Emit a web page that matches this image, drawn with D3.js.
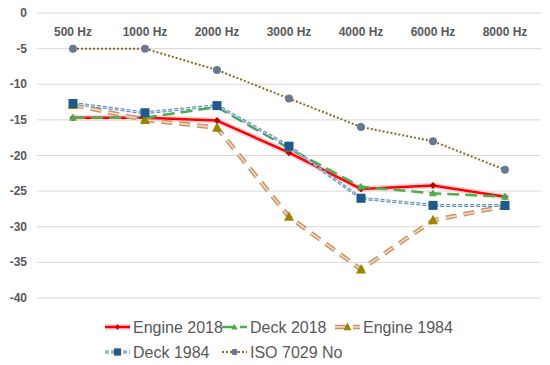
<!DOCTYPE html>
<html>
<head>
<meta charset="utf-8">
<script src="https://cdn.jsdelivr.net/npm/d3@7"></script>
<style>
  body { margin: 0; background: #fff; }
  svg { font-family: "Liberation Sans", Arial, sans-serif; }
  .tick-label { font-weight: bold; fill: #595959; font-size: 12px; }
  .legend-text { fill: #595959; font-size: 16px; }
</style>
</head>
<body>
<svg id="chart" width="550" height="365"></svg>
<script>
// values
const categories = ['500 Hz', '1000 Hz', '2000 Hz', '3000 Hz', '4000 Hz', '6000 Hz', '8000 Hz'];
const engine2018 = [-14.7, -14.7, -15.1, -19.6, -24.7, -24.2, -25.8];
const deck2018 = [-14.7, -14.7, -13.2, -19.0, -24.4, -25.3, -25.8];
const engine1984 = [-12.9, -15.0, -16.1, -28.6, -36.0, -29.1, -27.1];
const deck1984 = [-12.7, -14.0, -13.0, -18.7, -26.0, -27.0, -27.0];
const iso7029 = [-5, -5, -8, -12, -16, -18, -22];
const yTicks = [0, -5, -10, -15, -20, -25, -30, -35, -40];

const series = [
    { name: 'Engine 2018', values: engine2018, key: 'e18' },
    { name: 'Deck 2018', values: deck2018, key: 'd18' },
    { name: 'Engine 1984', values: engine1984, key: 'e84' },
    { name: 'Deck 1984', values: deck1984, key: 'd84' },
    { name: 'ISO 7029 No', values: iso7029, key: 'iso' }
];

const svg = d3.select('#chart');

const x = d3.scaleBand().domain(categories).range([37, 541]).padding(0);
const y = d3.scaleLinear().domain([-40, 0]).range([298, 13]);
const cx = (c) => x(c) + x.bandwidth() / 2;

// grid + y labels
svg.append('g').selectAll('line')
    .data(yTicks)
    .enter().append('line')
    .attr('x1', 37).attr('x2', 541)
    .attr('y1', d => y(d)).attr('y2', d => y(d))
    .attr('stroke', '#d9d9d9').attr('stroke-width', 1);

svg.append('g').selectAll('text')
    .data(yTicks)
    .enter().append('text')
    .attr('class', 'tick-label')
    .attr('x', 27).attr('y', d => y(d) + 4)
    .attr('text-anchor', 'end')
    .text(d => d === 0 ? '0' : d3.format('d')(d).replace('−', '-'));

// category labels sit just below the 0 line
svg.append('g').selectAll('text')
    .data(categories)
    .enter().append('text')
    .attr('class', 'tick-label')
    .attr('x', d => cx(d)).attr('y', 36)
    .attr('text-anchor', 'middle')
    .text(d => d);

const line = d3.line().x((d, i) => cx(categories[i])).y(d => y(d));

// line styles per series, each a list of stroked layers
const styles = {
    e18: [{ stroke: '#ffd6de', width: 6, dash: null }, { stroke: '#ff0000', width: 2.5, dash: null }],
    d18: [{ stroke: '#4cae4c', width: 2.5, dash: '12,6' }],
    e84: [{ stroke: '#c8956a', width: 4.5, dash: '11,7' }, { stroke: '#f6dcc4', width: 1.5, dash: '11,7' }],
    d84: [{ stroke: '#5f89b3', width: 3, dash: '4,2' }, { stroke: '#d6e6f2', width: 1, dash: '4,2' }],
    iso: [{ stroke: '#8a6d1c', width: 2, dash: '2,2' }]
};

function marker (g, key, px, py, scale) {
    const s = scale || 1;
    if (key === 'e18') {
        g.append('path')
            .attr('d', `M${px},${py - 3.5 * s}L${px + 3.5 * s},${py}L${px},${py + 3.5 * s}L${px - 3.5 * s},${py}Z`)
            .attr('fill', '#c00000');
    } else if (key === 'd18') {
        g.append('path')
            .attr('d', `M${px},${py - 4 * s}L${px + 4 * s},${py + 3 * s}L${px - 4 * s},${py + 3 * s}Z`)
            .attr('fill', '#4cae4c');
    } else if (key === 'e84') {
        g.append('path')
            .attr('d', `M${px},${py - 5.5 * s}L${px + 5 * s},${py + 4 * s}L${px - 5 * s},${py + 4 * s}Z`)
            .attr('fill', '#9c8300');
    } else if (key === 'd84') {
        g.append('rect')
            .attr('x', px - 4.5 * s).attr('y', py - 4.5 * s)
            .attr('width', 9 * s).attr('height', 9 * s)
            .attr('fill', '#1f5a8c');
    } else if (key === 'iso') {
        g.append('circle')
            .attr('cx', px).attr('cy', py).attr('r', 4 * s)
            .attr('fill', '#6b7894');
    }
}

series.forEach((s) => {
    const g = svg.append('g').attr('class', 'series-' + s.key);
    styles[s.key].forEach((st) => {
        g.append('path')
            .attr('d', line(s.values))
            .attr('fill', 'none')
            .attr('stroke', st.stroke)
            .attr('stroke-width', st.width)
            .attr('stroke-dasharray', st.dash)
            .attr('stroke-linejoin', 'round');
    });
    s.values.forEach((v, i) => marker(g, s.key, cx(categories[i]), y(v)));
});

// legend
const legendPos = [
    [105, 327], [222, 327], [335, 327],
    [105, 352], [222, 352]
];
series.forEach((s, i) => {
    const [lx, ly] = legendPos[i];
    const g = svg.append('g');
    styles[s.key].forEach((st) => {
        g.append('line')
            .attr('x1', lx).attr('x2', lx + 25)
            .attr('y1', ly).attr('y2', ly)
            .attr('stroke', st.stroke)
            .attr('stroke-width', st.width)
            .attr('stroke-dasharray', st.dash);
    });
    marker(g, s.key, lx + 12.5, ly, 0.8);
    g.append('text')
        .attr('class', 'legend-text')
        .attr('x', lx + 28).attr('y', ly + 6)
        .text(s.name);
});
</script>
</body>
</html>
